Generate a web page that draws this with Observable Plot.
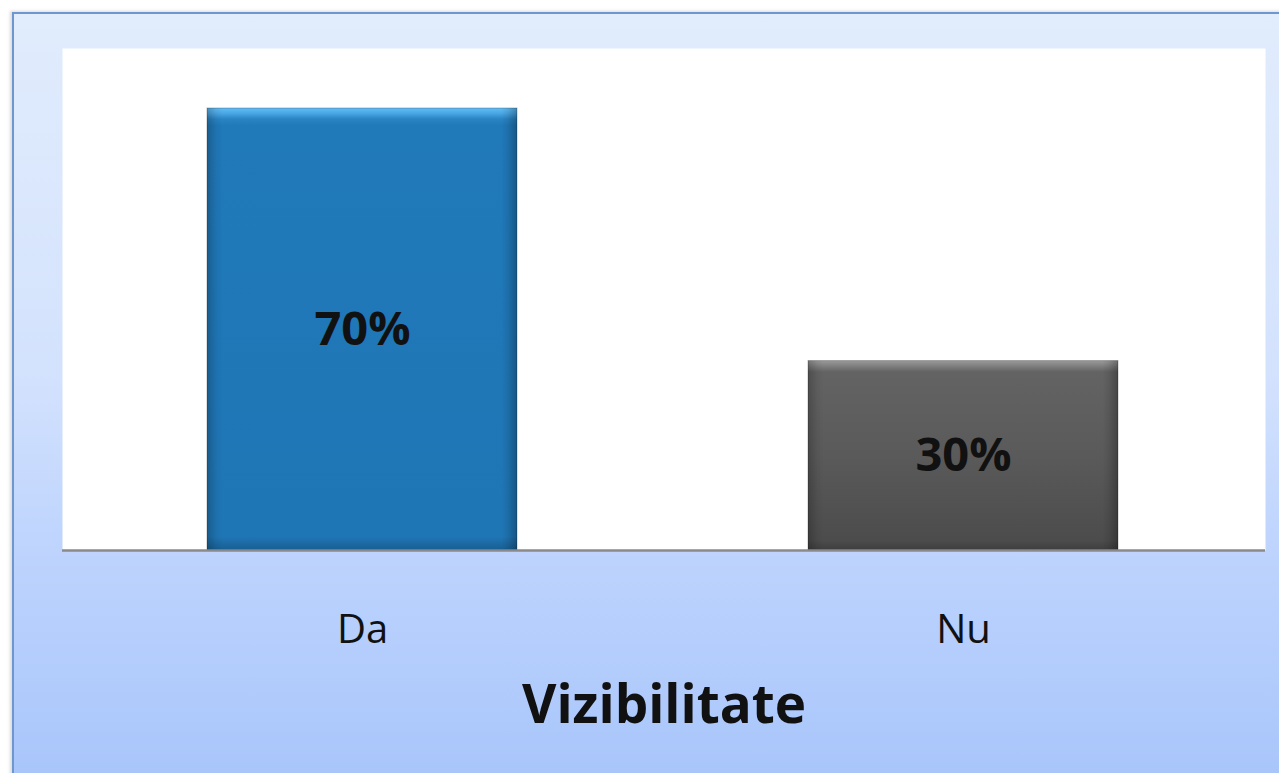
<!DOCTYPE html>
<html>
<head>
<meta charset="utf-8">
<script src="https://cdn.jsdelivr.net/npm/d3@7"></script>
<script src="https://cdn.jsdelivr.net/npm/@observablehq/plot@0.6"></script>
<style>
  html, body { margin: 0; padding: 0; background: #ffffff; overflow: hidden; }
  #wrap { position: relative; width: 1279px; height: 773px; }
  #bg { position: absolute; left: 12px; top: 12px; width: 1300px; height: 800px;
        border-left: 2px solid #6e97cf; border-top: 2px solid #6e97cf;
        background: linear-gradient(to bottom, #e1ecfc 0%, #d3e2fd 45%, #bbd2fd 70%, #a5c3fa 100%);
        box-shadow: -2px -1px 3px rgba(0,0,0,0.15); }
  #chart { position: absolute; left: 0; top: 0; }
</style>
</head>
<body>
<div id="wrap"><div id="bg"></div><div id="chart"></div></div>
<script>
const categories = ["Da", "Nu"];
const values = [70, 30];
const valueLabels = ["70%", "30%"];
const axisTitle = "Vizibilitate";
const fills = ["url(#gDa)", "url(#gNu)"];

const data = categories.map((c, i) => ({cat: c, value: values[i], label: valueLabels[i]}));

const chart = Plot.plot({
  width: 1279,
  height: 773,
  marginLeft: 62,
  marginRight: 14,
  marginTop: 48,
  marginBottom: 223,
  style: {background: "transparent", fontFamily: "'Open Sans', sans-serif"},
  x: {domain: categories, range: [60.6, 1263.1], paddingInner: 0.485, paddingOuter: 0.2425, axis: null},
  y: {domain: [0, 79.5], axis: null},
  color: {domain: categories, range: fills},
  marks: [
    Plot.frame({fill: "white", stroke: null}),
    Plot.barY(data, {x: "cat", y: "value", fill: "cat", stroke: "rgba(0,0,0,0.25)", strokeWidth: 1}),
    Plot.barY(data, {x: "cat", y: "value", fill: "url(#gEdge)"}),
    Plot.ruleY([0], {stroke: "#8a8a8a", strokeWidth: 2.5}),
    Plot.text(data, {x: "cat", y: d => d.value / 2, text: "label", fontSize: 47, fontWeight: "bold", fill: "#111", lineAnchor: "middle"}),
    Plot.text(categories, {x: d => d, frameAnchor: "bottom", dy: 80, text: d => d, fontSize: 40, fill: "#111", lineAnchor: "middle"}),
    Plot.text([axisTitle], {frameAnchor: "bottom", dy: 156, text: d => d, fontSize: 53, fontWeight: "bold", fill: "#111", lineAnchor: "middle"})
  ]
});

const svg = d3.select(chart);
const defs = svg.insert("defs", ":first-child");
const gDa = defs.append("linearGradient").attr("id", "gDa").attr("x1", 0).attr("y1", 0).attr("x2", 0).attr("y2", 1);
[["0%", "#62bdf5"], ["1.2%", "#4aa6e4"], ["2.5%", "#2a84c4"], ["4%", "#2079b9"], ["97%", "#1f76b5"], ["100%", "#185e92"]]
  .forEach(([o, c]) => gDa.append("stop").attr("offset", o).attr("stop-color", c));
const gNu = defs.append("linearGradient").attr("id", "gNu").attr("x1", 0).attr("y1", 0).attr("x2", 0).attr("y2", 1);
[["0%", "#9a9a9a"], ["3%", "#7e7e7e"], ["6%", "#636363"], ["50%", "#5a5a5a"], ["95%", "#4c4c4c"], ["100%", "#3e3e3e"]]
  .forEach(([o, c]) => gNu.append("stop").attr("offset", o).attr("stop-color", c));
const gEdge = defs.append("linearGradient").attr("id", "gEdge").attr("x1", 0).attr("y1", 0).attr("x2", 1).attr("y2", 0);
[["0%", "rgba(0,0,0,0.22)"], ["3%", "rgba(0,0,0,0.05)"], ["5%", "rgba(0,0,0,0)"], ["95%", "rgba(0,0,0,0)"], ["97%", "rgba(0,0,0,0.08)"], ["100%", "rgba(0,0,0,0.28)"]]
  .forEach(([o, c]) => gEdge.append("stop").attr("offset", o).attr("stop-color", c));

document.getElementById("chart").appendChild(chart);
</script>
</body>
</html>
